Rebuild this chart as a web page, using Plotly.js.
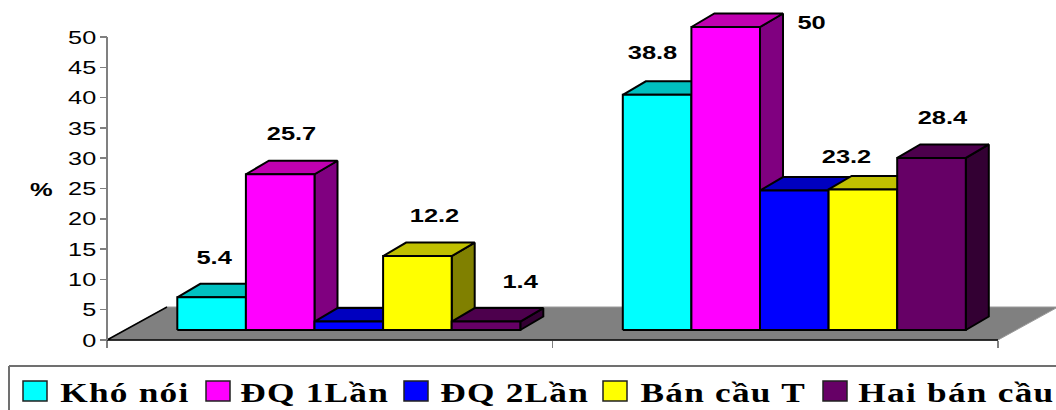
<!DOCTYPE html>
<html>
<head>
<meta charset="utf-8">
<script src="https://cdn.plot.ly/plotly-3.0.1.min.js"></script>
<style>html,body{margin:0;padding:0;background:#fff}#chart{width:1056px;height:410px}</style>
</head>
<body>
<div id="chart"></div>
<script>
// Percentages per patient group
const khoNoi = [5.4, 38.8];
const dq1Lan = [25.7, 50];
const dq2Lan = [1.4, 23];
const banCauT = [12.2, 23.2];
const haiBanCau = [1.4, 28.4];
const seriesValues = [khoNoi, dq1Lan, dq2Lan, banCauT, haiBanCau];
const seriesNames = ['Khó nói', 'ĐQ 1Lần', 'ĐQ 2Lần', 'Bán cầu T', 'Hai bán cầu'];
const yTicks = [0, 5, 10, 15, 20, 25, 30, 35, 40, 45, 50];

// Face colours: front, top, side
const frontColors = ['#00FFFF', '#FF00FF', '#0000FF', '#FFFF00', '#660066'];
const topColors = ['#00C0C0', '#C000B0', '#0000C0', '#C0C000', '#4D004D'];
const sideColors = ['#008080', '#800080', '#000080', '#808000', '#330033'];

// Scale helpers for the pseudo-3D projection
const W = 1056, H = 410;
const axisLeft = 107, zeroPx = 340, pxPerUnit = 6.06, pxPerGroup = 445.5;
const u = px => px / pxPerGroup;
const v = px => px / pxPerUnit;
const barBase = v(10), depthX = u(23), depthY = v(13.5);
const barW = u(68.6), groupStart = u(70.3);
const floorDX = u(60), floorDY = v(33);

const poly = (xs, ys, fill, line, width) => ({
  x: xs, y: ys, type: 'scatter', mode: 'lines', fill: fill ? 'toself' : 'none',
  fillcolor: fill || undefined, line: {color: line, width: width},
  hoverinfo: 'skip', showlegend: false
});

const traces = [];
// Floor of the chart
traces.push(poly([0, floorDX, 2 + floorDX, 2, 0], [0, floorDY, floorDY, 0, 0], '#808080', '#9a9a9a', 1));
traces.push(poly([floorDX, 0, 2], [floorDY, 0, 0], null, '#000', 1.5));
// Vertical axis line
traces.push(poly([0, 0], [0, 50], null, '#808080', 2));

// Bars, painted left to right so each one covers its neighbour's depth
const annotations = [];
const labelDX = [[3, 11, 0, 17, 34], [-5, 86, 0, -16, 11]];
const labelDY = [40, 41, 0, 41, 40, 42, 5, 0, 33, 40];
[0, 1].forEach(g => {
  seriesValues.forEach((vals, i) => {
    const l = g + groupStart + i * barW, r = l + barW;
    const b = barBase, t = b + vals[g];
    traces.push(poly([r, r + depthX, r + depthX, r, r], [b, b + depthY, t + depthY, t, b], sideColors[i], '#000', 2));
    traces.push(poly([l, l + depthX, r + depthX, r, l], [t, t + depthY, t + depthY, t, t], topColors[i], '#000', 2));
    traces.push(poly([l, r, r, l, l], [b, b, t, t, b], frontColors[i], '#000', 2));
    if (labelDX[g][i] !== 0) {
      annotations.push({
        x: (l + r) / 2, y: t, xref: 'x', yref: 'y', text: String(vals[g]), showarrow: false,
        xshift: labelDX[g][i], yshift: labelDY[g * 5 + i],
        font: {family: 'Liberation Sans', size: 19, color: '#000', weight: 700},
        xanchor: 'center', yanchor: 'middle'
      });
    }
  });
});

// Unit label on the vertical axis
annotations.push({
  xref: 'paper', yref: 'paper', x: 41 / W, y: 1 - 189 / H, text: '%', showarrow: false,
  font: {family: 'Liberation Sans', size: 19, color: '#000', weight: 700},
  xanchor: 'center', yanchor: 'middle'
});

// Legend frame, swatches and entries
const shapes = [
  {type: 'line', xref: 'paper', yref: 'paper', x0: 9 / W, x1: 1, y0: 1 - 366 / H, y1: 1 - 366 / H, line: {color: '#707070', width: 2}},
  {type: 'line', xref: 'paper', yref: 'paper', x0: 9 / W, x1: 9 / W, y0: 0, y1: 1 - 366 / H, line: {color: '#707070', width: 2}}
];
const swatchLeft = [23, 206, 404, 603, 823];
const entryCenter = [125, 315, 515, 723, 956];
seriesNames.forEach((name, i) => {
  shapes.push({
    type: 'rect', xref: 'paper', yref: 'paper', x0: swatchLeft[i] / W, x1: (swatchLeft[i] + 24) / W,
    y0: 1 - 401 / H, y1: 1 - 381 / H, fillcolor: frontColors[i], line: {color: '#202020', width: 1.5}
  });
  annotations.push({
    xref: 'paper', yref: 'paper', x: entryCenter[i] / W, y: 1 - 392 / H, text: name, showarrow: false,
    font: {family: 'Liberation Serif', size: 28, color: '#000', weight: 700},
    xanchor: 'center', yanchor: 'middle'
  });
});

const layout = {
  width: W, height: H, margin: {l: 0, r: 0, t: 0, b: 0},
  paper_bgcolor: '#fff', plot_bgcolor: '#fff', showlegend: false,
  xaxis: {
    range: [u(-axisLeft), u(W - axisLeft)], anchor: 'free', position: (H - zeroPx) / H,
    showgrid: false, zeroline: false, showline: false, tickmode: 'array', tickvals: [0, 1, 2],
    showticklabels: false, ticks: 'outside', ticklen: 7, tickwidth: 1.5, tickcolor: '#808080'
  },
  yaxis: {
    range: [v(zeroPx - H), v(zeroPx)], anchor: 'free', position: axisLeft / W,
    showgrid: false, zeroline: false, showline: false, tickmode: 'array', tickvals: yTicks,
    ticks: 'outside', ticklen: 7, tickwidth: 1.5, tickcolor: '#808080',
    tickfont: {family: 'Liberation Sans', size: 19, color: '#000'}
  },
  annotations: annotations, shapes: shapes
};

// The lettering runs wide, so text is widened horizontally about a fixed point
function widen(el, factor, pivot) {
  const box = el.getBBox();
  const px = pivot === 'end' ? box.x + box.width : box.x + box.width / 2;
  const old = el.getAttribute('transform') || '';
  el.setAttribute('transform', `${old} translate(${px} 0) scale(${factor} 1) translate(${-px} 0)`);
}

Plotly.newPlot('chart', traces, layout, {displayModeBar: false, staticPlot: true}).then(() => {
  document.querySelectorAll('.ytick text').forEach(el => widen(el, 1.33, 'end'));
  document.querySelectorAll('.annotation-text').forEach(el => {
    if (seriesNames.includes(el.textContent)) {
      el.style.letterSpacing = '1px';
      widen(el, 1.26);
    } else {
      widen(el, 1.34);
    }
  });
});
</script>
</body>
</html>
